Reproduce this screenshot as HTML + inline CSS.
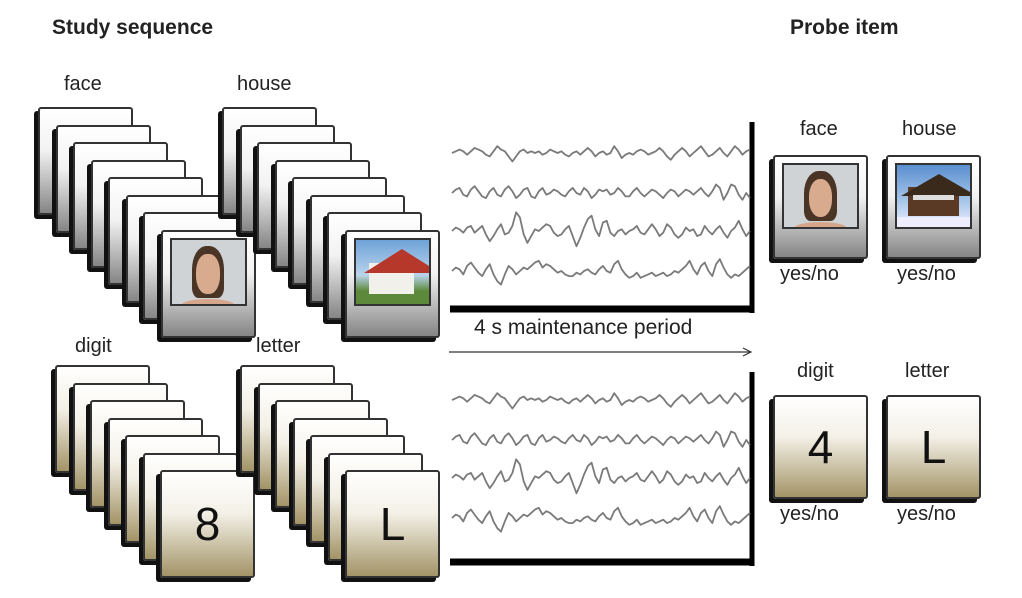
<!DOCTYPE html>
<html><head><meta charset="utf-8"><style>
body{margin:0;width:1022px;height:598px;background:#fff;position:relative;overflow:hidden;font-family:"Liberation Sans",sans-serif;}
.t{position:absolute;color:#222;white-space:nowrap;}
.card{position:absolute;box-sizing:border-box;border:2px solid #333;border-radius:3px;box-shadow:-4px 4px 0 #111;}
.g{background:linear-gradient(#fff 0%,#f2f2f2 40%,#858585 100%);}
.b{background:linear-gradient(#fff 0%,#f3f0e6 40%,#a39467 100%);}
.ph{position:absolute;left:7px;top:6px;right:7px;height:62%;border:2px solid #333;overflow:hidden;}
.big{position:absolute;left:0;right:0;top:50%;transform:translateY(-50%);text-align:center;font-size:46px;color:#111;}
</style></head><body>
<div class="t" style="left:52px;top:16px;font-size:21px;font-weight:bold;">Study sequence</div>
<div class="t" style="left:790px;top:16px;font-size:21px;font-weight:bold;">Probe item</div>
<div class="t" style="left:64px;top:73px;font-size:20px;">face</div>
<div class="t" style="left:237px;top:73px;font-size:20px;">house</div>
<div class="t" style="left:75px;top:335px;font-size:20px;">digit</div>
<div class="t" style="left:256px;top:335px;font-size:20px;">letter</div>
<div class="t" style="left:800px;top:118px;font-size:20px;">face</div>
<div class="t" style="left:902px;top:118px;font-size:20px;">house</div>
<div class="t" style="left:797px;top:360px;font-size:20px;">digit</div>
<div class="t" style="left:905px;top:360px;font-size:20px;">letter</div>
<div class="t" style="left:780px;top:263px;font-size:20px;">yes/no</div>
<div class="t" style="left:897px;top:263px;font-size:20px;">yes/no</div>
<div class="t" style="left:780px;top:503px;font-size:20px;">yes/no</div>
<div class="t" style="left:897px;top:503px;font-size:20px;">yes/no</div>
<div class="t" style="left:474px;top:316px;font-size:21px;">4 s maintenance period</div>

<svg id="eeg" width="1022" height="598" style="position:absolute;left:0;top:0;pointer-events:none;">
<line x1="449" y1="352" x2="750" y2="352" stroke="#333" stroke-width="1.2"/>
<polyline points="743,348 751,352 743,356" fill="none" stroke="#333" stroke-width="1.2"/>
<line x1="752" y1="122" x2="752" y2="313" stroke="#000" stroke-width="5"/>
<line x1="450" y1="309" x2="754" y2="309" stroke="#000" stroke-width="7"/>
<line x1="752" y1="372" x2="752" y2="566" stroke="#000" stroke-width="5"/>
<line x1="450" y1="562" x2="754" y2="562" stroke="#000" stroke-width="7"/>
</svg>
<script>
// EEG traces (amplitudes in arbitrary units)
const trace1=[0,1,2,1,-1,1,3,2,1,-1,-2,1,4,2,1,-2,-5,-2,1,2,0,1,0,1,-1,0,2,1,0,1,-1,-2,0,1,-1,1,3,1,-2,0,1,-1,0,4,1,-3,-1,0,-1,1,2,1,-1,0,1,3,1,-2,-4,-1,1,3,1,-2,0,2,4,1,-2,-1,1,3,0,-2,1,4,2,-1,1,2];
const trace2=[0,2,3,-1,-2,2,4,1,-2,-3,1,3,-1,-2,2,4,1,-3,-1,2,3,-2,-3,1,3,-1,0,2,1,-1,-2,1,3,0,-1,3,1,-3,-1,2,1,2,-1,0,3,1,-2,-2,1,3,0,-2,0,2,1,-1,-3,0,2,1,-2,0,2,1,-1,1,3,0,-2,1,5,3,-4,0,5,4,-1,-4,0,-3];
const trace3=[0,2,1,-1,2,3,-1,1,3,-2,-6,-3,1,4,-2,-1,3,11,8,-2,-7,-3,1,0,2,4,3,-1,-3,-2,1,3,-3,-9,-4,2,7,9,1,-3,5,6,-1,-3,0,1,-2,0,1,3,-1,-2,1,4,1,-3,-1,4,2,-2,-4,-2,2,0,1,-3,-2,3,0,-2,1,3,-1,-4,0,2,6,1,-3,0];
const trace4=[0,2,1,-2,3,5,2,-1,-3,1,4,-2,-6,-8,-2,3,1,-2,0,2,1,3,5,6,2,4,3,1,-1,0,-2,-3,-3,-1,-2,0,1,-1,-2,1,3,0,-1,4,6,1,-2,-4,-3,-1,-4,-3,-2,-1,-3,-2,-1,-3,-2,0,-1,1,3,6,1,-2,3,5,0,-3,4,7,2,-2,-4,-2,-3,-1,1,3];
const traceOffsets=[0,40,78,118];
const panelTops=[153,400];
const svg=document.getElementById('eeg');
const NS='http://www.w3.org/2000/svg';
const traces=[trace1,trace2,trace3,trace4];
function xs(i,n){return 452+i*(298/(n-1));}
panelTops.forEach((top,p)=>{
  traces.forEach((tr,k)=>{
    const pl=document.createElementNS(NS,'polyline');
    pl.setAttribute('points',tr.map((v,i)=>xs(i,tr.length).toFixed(1)+','+(top+traceOffsets[k]-v*1.7).toFixed(1)).join(' '));
    pl.setAttribute('fill','none');pl.setAttribute('stroke','#7a7a7a');pl.setAttribute('stroke-width','1.8');pl.setAttribute('stroke-linejoin','round');
    
    
    svg.appendChild(pl);
  });
});

function card(x,y,w,h,cls,name){
  const d=document.createElement('div');
  d.className='card '+cls;
  d.style.left=x+'px';d.style.top=y+'px';d.style.width=w+'px';d.style.height=h+'px';
  
  
  document.body.appendChild(d);return d;
}
const facePhoto='<div class="ph" style="background:#cfd3d6"><div style="position:absolute;left:28%;top:10%;width:44%;height:80%;background:#4a3426;border-radius:45% 45% 20% 20%"></div><div style="position:absolute;left:34%;top:22%;width:32%;height:62%;background:#d9ab8e;border-radius:45%"></div><div style="position:absolute;left:15%;bottom:-10%;width:70%;height:18%;background:#d6a68a;border-radius:50% 50% 0 0"></div></div>';
const housePhoto='<div class="ph" style="background:linear-gradient(#6fa3d8,#b9d3ec 55%,#5d8a3a 80%)"><div style="position:absolute;left:18%;top:36%;width:62%;height:48%;background:#f2f0ea"></div><div style="position:absolute;left:12%;top:14%;width:0;height:0;border-left:38px solid transparent;border-right:38px solid transparent;border-bottom:24px solid #b5382a"></div></div>';
const chaletPhoto='<div class="ph" style="background:linear-gradient(#5a8fd0,#a9c8ea 60%,#eef 100%)"><div style="position:absolute;left:15%;top:35%;width:70%;height:48%;background:#5a3a24"></div><div style="position:absolute;left:5%;top:14%;width:0;height:0;border-left:38px solid transparent;border-right:38px solid transparent;border-bottom:22px solid #3a2a1c"></div><div style="position:absolute;left:22%;top:48%;width:56%;height:8%;background:#ddd"></div><div style="position:absolute;left:0;bottom:0;width:100%;height:16%;background:#eef"></div></div>';
function stack(x0,y0,n,cls,name,inner){
  for(let i=0;i<n;i++){
    const c=card(x0+17.5*i,y0+17.5*i,95,108,cls,name+'-card');
    if(i===n-1) c.innerHTML=inner;
  }
}
stack(38,107,8,'g','face',facePhoto);
stack(222,107,8,'g','house',housePhoto);
stack(55,365,7,'b','digit','<div class="big">8</div>');
stack(240,365,7,'b','letter','<div class="big">L</div>');
card(773,155,95,104,'g','probe-face-card').innerHTML=facePhoto;
card(886,155,95,104,'g','probe-house-card').innerHTML=chaletPhoto;
card(773,395,95,104,'b','probe-digit-card').innerHTML='<div class="big">4</div>';
card(886,395,95,104,'b','probe-letter-card').innerHTML='<div class="big">L</div>';
</script>
</body></html>
